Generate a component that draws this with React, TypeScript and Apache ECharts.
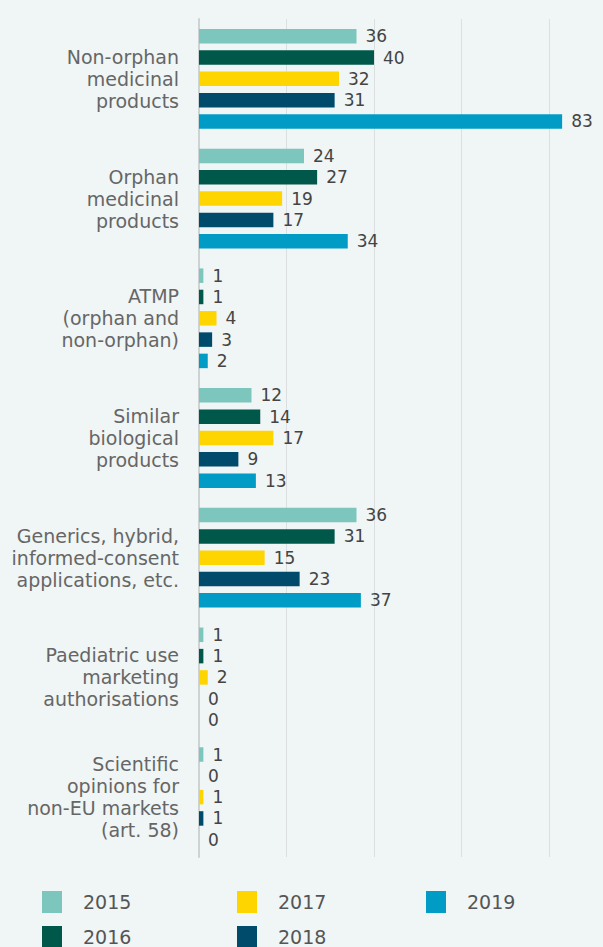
import React, { useEffect, useRef } from "react";
import * as echarts from "echarts";

const categories = [
  "Non-orphan\nmedicinal\nproducts",
  "Orphan\nmedicinal\nproducts",
  "ATMP\n(orphan and\nnon-orphan)",
  "Similar\nbiological\nproducts",
  "Generics, hybrid,\ninformed-consent\napplications, etc.",
  "Paediatric use\nmarketing\nauthorisations",
  "Scientific\nopinions for\nnon-EU markets\n(art. 58)",
];

const years = ["2015", "2016", "2017", "2018", "2019"];
const values2015 = [36, 24, 1, 12, 36, 1, 1];
const values2016 = [40, 27, 1, 14, 31, 1, 0];
const values2017 = [32, 19, 4, 17, 15, 2, 1];
const values2018 = [31, 17, 3, 9, 23, 0, 1];
const values2019 = [83, 34, 2, 13, 37, 0, 0];
const seriesValues = [values2015, values2016, values2017, values2018, values2019];
const colors = ["#7dc6bd", "#00584a", "#ffd500", "#004a6c", "#009cc6"];

const legendPos = [
  { left: 42, top: 891 },
  { left: 42, top: 926 },
  { left: 237, top: 891 },
  { left: 237, top: 926 },
  { left: 426, top: 891 },
];

export default function App() {
  const ref = useRef<HTMLDivElement>(null);
  useEffect(() => {
    document.body.style.margin = "0";
    if (!ref.current) return;
    const chart = echarts.init(ref.current, null, { renderer: "svg" });
    const font = "'DejaVu Sans', Verdana, sans-serif";
    chart.setOption({
      animation: false,
      backgroundColor: "#f0f5f5",
      textStyle: { fontFamily: font },
      grid: { left: 199, top: 19, width: 402.5, height: 838, containLabel: false },
      xAxis: {
        type: "value",
        min: 0,
        max: 92,
        interval: 20,
        axisLabel: { show: false },
        axisLine: { show: false },
        axisTick: { show: false },
        splitLine: { show: true, showMaxLine: false, lineStyle: { color: "#dcdfdf", width: 1 } },
      },
      yAxis: {
        type: "category",
        inverse: true,
        data: categories,
        axisLine: { show: true, lineStyle: { color: "#cdd2d2", width: 2 } },
        axisTick: { show: false },
        axisLabel: {
          color: "#666666",
          fontSize: 19,
          lineHeight: 22,
          margin: 20,
          fontFamily: font,
          align: "right",
        },
      },
      legend: years.map((y, i) => ({
        data: [y],
        left: legendPos[i].left,
        top: legendPos[i].top,
        orient: "horizontal",
        icon: "rect",
        itemWidth: 20,
        itemHeight: 22,
        itemGap: 0,
        padding: 0,
        selectedMode: false,
        textStyle: { color: "#555555", fontSize: 19, fontFamily: font, padding: [0, 0, 0, 16] },
      })),
      series: years.map((y, i) => ({
        name: y,
        type: "bar",
        data: seriesValues[i],
        barWidth: 14.5,
        barGap: "47%",
        itemStyle: { color: colors[i] },
        label: {
          show: true,
          position: "right",
          distance: 9,
          color: "#444444",
          fontSize: 17,
          fontFamily: font,
        },
      })),
    });
    return () => chart.dispose();
  }, []);
  return <div ref={ref} style={{ width: 603, height: 947 }} />;
}
